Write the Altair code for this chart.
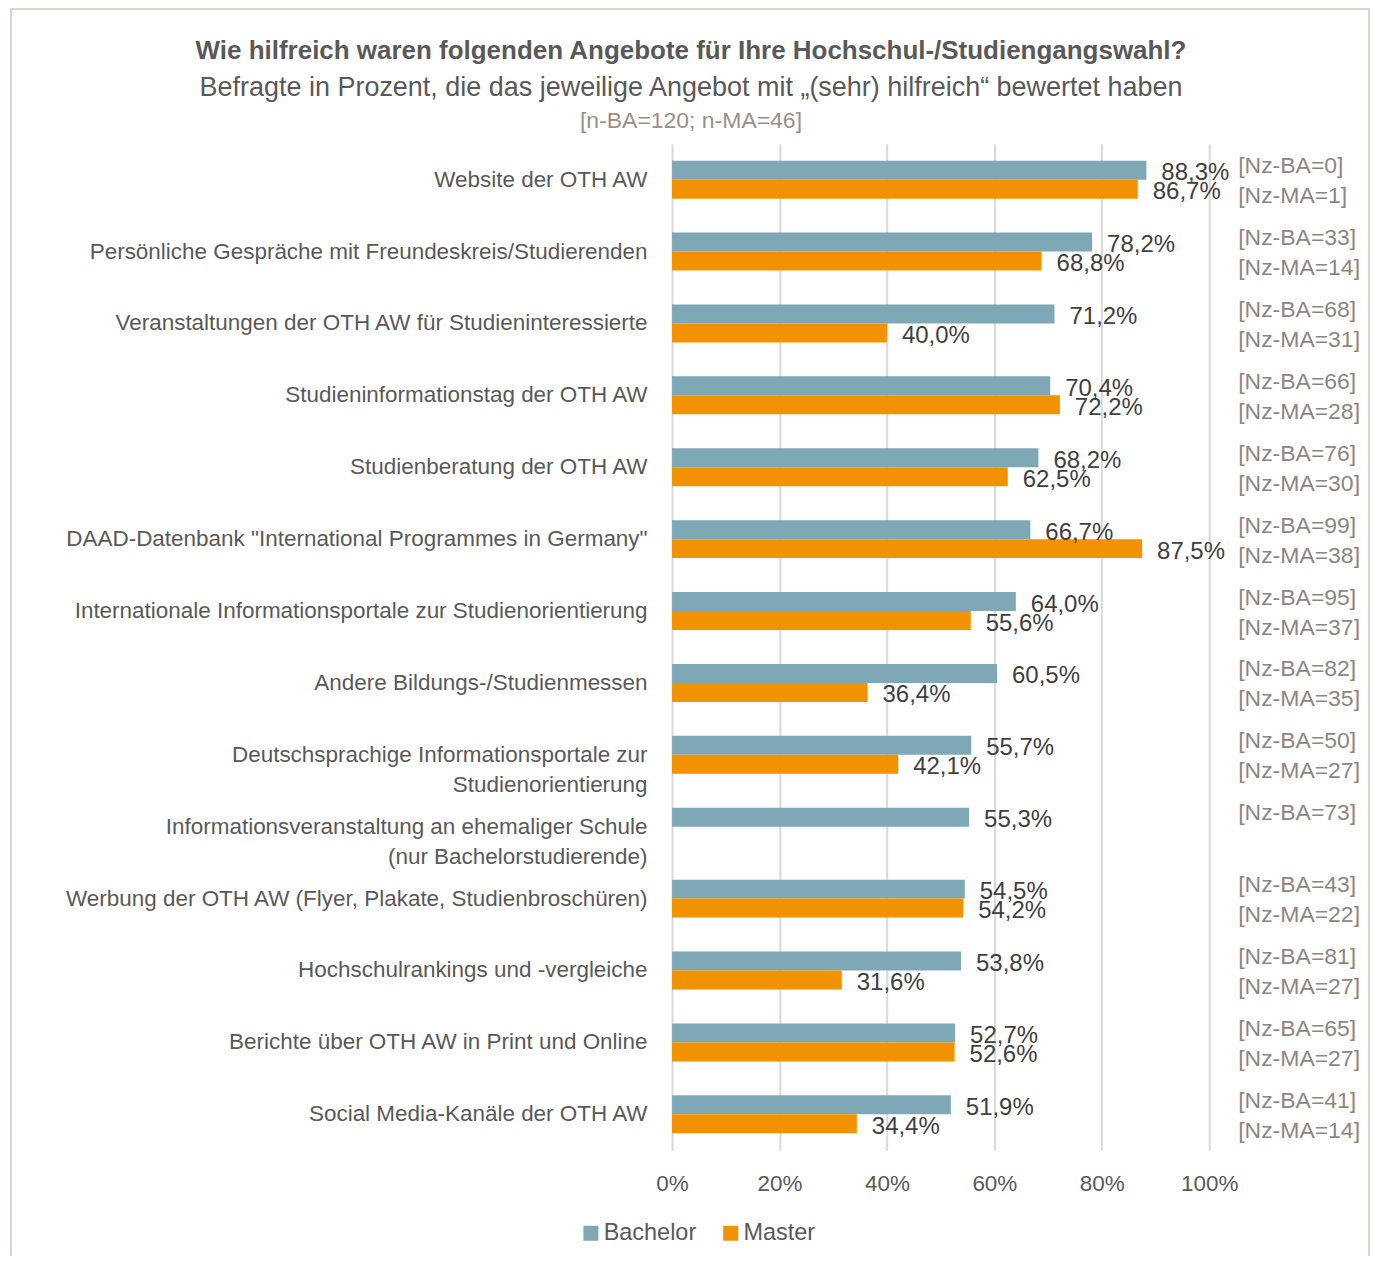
import altair as alt
import pandas as pd

# ---------------- data ----------------
categories = [
    "Website der OTH AW",
    "Persönliche Gespräche mit Freundeskreis/Studierenden",
    "Veranstaltungen der OTH AW für Studieninteressierte",
    "Studieninformationstag der OTH AW",
    "Studienberatung der OTH AW",
    "DAAD-Datenbank \"International Programmes in Germany\"",
    "Internationale Informationsportale zur Studienorientierung",
    "Andere Bildungs-/Studienmessen",
    "Deutschsprachige Informationsportale zur|Studienorientierung",
    "Informationsveranstaltung an ehemaliger Schule|(nur Bachelorstudierende)",
    "Werbung der OTH AW (Flyer, Plakate, Studienbroschüren)",
    "Hochschulrankings und -vergleiche",
    "Berichte über OTH AW in Print und Online",
    "Social Media-Kanäle der OTH AW",
]
bachelor = [88.3, 78.2, 71.2, 70.4, 68.2, 66.7, 64.0, 60.5, 55.7, 55.3, 54.5, 53.8, 52.7, 51.9]
master = [86.7, 68.8, 40.0, 72.2, 62.5, 87.5, 55.6, 36.4, 42.1, None, 54.2, 31.6, 52.6, 34.4]
nz_ba = [0, 33, 68, 66, 76, 99, 95, 82, 50, 73, 43, 81, 65, 41]
nz_ma = [1, 14, 31, 28, 30, 38, 37, 35, 27, None, 22, 27, 27, 14]
series = ["Bachelor", "Master"]
colors = ["#7fa8b6", "#f39200"]
x_ticks = [0, 20, 40, 60, 80, 100]

TITLE = "Wie hilfreich waren folgenden Angebote für Ihre Hochschul-/Studiengangswahl?"
SUBTITLE = "Befragte in Prozent, die das jeweilige Angebot mit \u201e(sehr) hilfreich\u201c bewertet haben"
SAMPLE = "[n-BA=120; n-MA=46]"

# ---------------- table ----------------
def fmt(v):
    return f"{v:.1f}".replace(".", ",") + "%"

rows = []
for cat, b, m, nb, nm in zip(categories, bachelor, master, nz_ba, nz_ma):
    rows.append({"cat": cat, "series": "Bachelor", "value": b, "label": fmt(b), "nz": f"[Nz-BA={nb}]"})
    if m is not None:
        rows.append({"cat": cat, "series": "Master", "value": m, "label": fmt(m), "nz": f"[Nz-MA={nm}]"})
df = pd.DataFrame(rows)
one = pd.DataFrame({"k": [0]})

W, H = 538, 1008
FONT = "Liberation Sans, Arial, sans-serif"
TXT = "#595959"
NOTE = "#8e857e"

x_scale = alt.Scale(domain=[0, 100], nice=False)
y_sorted = alt.Y("cat:N", sort=categories,
                 scale=alt.Scale(paddingInner=0.472, paddingOuter=0.236))
yoff = alt.YOffset("series:N", sort=series)

bars = alt.Chart(df).mark_bar().encode(
    x=alt.X("value:Q", scale=x_scale,
            axis=alt.Axis(values=x_ticks, labelExpr="datum.value + '%'", title=None,
                          grid=True, gridColor="#d9d9d9", gridWidth=2, ticks=False,
                          domain=False, labelFontSize=22.5, labelColor=TXT, labelFont=FONT,
                          labelPadding=22, labelFlush=False)),
    y=alt.Y("cat:N", sort=categories,
            scale=alt.Scale(paddingInner=0.472, paddingOuter=0.236),
            axis=alt.Axis(title=None, labelExpr="split(datum.label, '|')",
                          labelFontSize=22.5, labelColor=TXT, labelFont=FONT,
                          labelPadding=25, labelLimit=900, labelLineHeight=30,
                          ticks=False, domain=False, grid=False)),
    yOffset=yoff,
    color=alt.Color("series:N", sort=series,
                    scale=alt.Scale(domain=series, range=colors),
                    legend=alt.Legend(title=None, orient="none", legendX=-93, legendY=1079,
                                      direction="horizontal", symbolType="square",
                                      symbolSize=225, symbolStrokeWidth=0,
                                      labelFontSize=23.5, labelColor=TXT, labelFont=FONT,
                                      labelOffset=1, columnPadding=22, padding=0)),
)

value_labels = alt.Chart(df).mark_text(
    align="left", baseline="middle", dx=15, dy=3, font=FONT, fontSize=24, color="#404040"
).encode(x=alt.X("value:Q", scale=x_scale), y=y_sorted, yOffset=yoff, text="label:N")

nz_ba_text = alt.Chart(df).transform_filter(alt.datum.series == "Bachelor").mark_text(
    align="left", baseline="middle", dy=-4, font=FONT, fontSize=23, color=NOTE
).encode(x=alt.value(W + 29), y=y_sorted, yOffset=yoff, text="nz:N")

nz_ma_text = alt.Chart(df).transform_filter(alt.datum.series == "Master").mark_text(
    align="left", baseline="middle", dy=7, font=FONT, fontSize=23, color=NOTE
).encode(x=alt.value(W + 29), y=y_sorted, yOffset=yoff, text="nz:N")

frame = alt.Chart(one).mark_rect(fill="white", fillOpacity=0, stroke="#d9d4d0", strokeWidth=2).encode(
    x=alt.value(-662), x2=alt.value(698), y=alt.value(-135), y2=alt.value(1140)
)

t1 = alt.Chart(one).mark_text(text=TITLE, font=FONT, fontSize=26, fontWeight="bold", color=TXT,
                              align="center", baseline="middle").encode(x=alt.value(19), y=alt.value(-93))
t2 = alt.Chart(one).mark_text(text=SUBTITLE, font=FONT, fontSize=27, color=TXT,
                              align="center", baseline="middle").encode(x=alt.value(19), y=alt.value(-56))
t3 = alt.Chart(one).mark_text(text=SAMPLE, font=FONT, fontSize=23, color="#9b8f86",
                              align="center", baseline="middle").encode(x=alt.value(19), y=alt.value(-23))

chart = alt.layer(frame, bars, value_labels, nz_ba_text, nz_ma_text, t1, t2, t3).properties(
    width=W, height=H,
    autosize=alt.AutoSizeParams(type="none"),
    padding={"left": 665, "top": 135, "right": 161, "bottom": 105},
    background="white",
).configure_view(strokeOpacity=0)

chart.save("out.html", embed_options={"renderer": "svg", "actions": False})
